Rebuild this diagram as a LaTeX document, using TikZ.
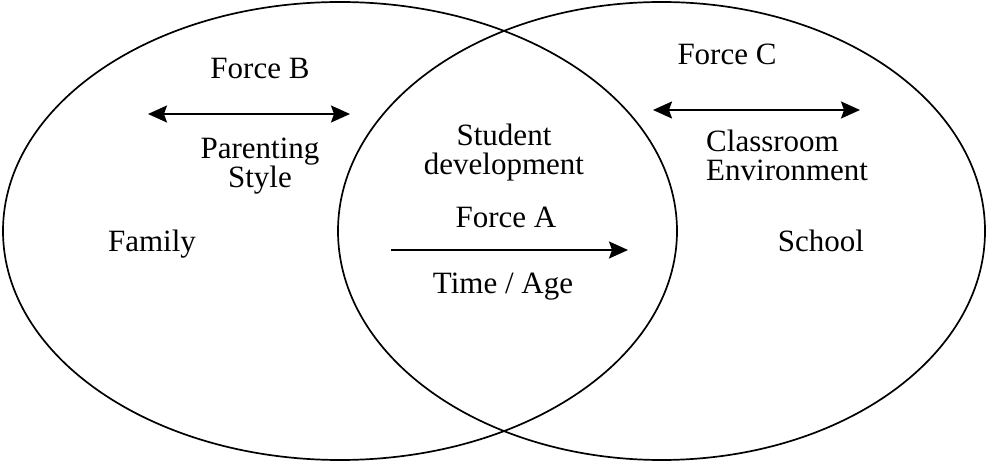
\documentclass[tikz,border=0pt]{standalone}
\usepackage{fontspec}
\setmainfont{Liberation Serif}
\usetikzlibrary{arrows.meta}
\begin{document}
\begin{tikzpicture}[x=1pt,y=-1pt,
  lbl/.style={font=\fontsize{31}{29}\selectfont, inner sep=0pt, anchor=base, align=center},
  lbll/.style={font=\fontsize{31}{29}\selectfont, inner sep=0pt, anchor=base west, align=left},
  ring/.style={draw=black, line width=1.7pt},
  tip/.tip={Stealth[length=19pt,width=17pt,inset=3pt]},
  force/.style={line width=2pt, arrows={-tip}},
  dforce/.style={line width=2pt, arrows={tip-tip}}]
\useasboundingbox (0,0) rectangle (988,462);
\draw[ring] (340,231) ellipse [x radius=337, y radius=229];
\draw[ring] (661.5,231) ellipse [x radius=323.5, y radius=229];
% Force B
\node[lbl] (fb) at (260,79) {Force B};
\coordinate (b1) at (148,114);
\coordinate (b2) at (350,114);
\draw[dforce] (b1) -- (b2);
\node[lbl] (ps) at (260,188) {Parenting\\Style};
% Force C
\node[lbl] (fc) at (727,65) {Force C};
\coordinate (c1) at (653,110);
\coordinate (c2) at (860,110);
\draw[dforce] (c1) -- (c2);
\node[lbll] (ce) at (706,181) {Classroom\\Environment};
% Center
\node[lbl] (sd) at (504,175) {Student\\development};
\node[lbl] (fa) at (506,228) {Force A};
\coordinate (a1) at (391,250);
\coordinate (a2) at (628,250);
\draw[force] (a1) -- (a2);
\node[lbl] (ta) at (503,294) {Time / Age};
% Sides
\node[lbl] (fam) at (152,252) {Family};
\node[lbl] (sch) at (821,252) {School};
\end{tikzpicture}
\end{document}
